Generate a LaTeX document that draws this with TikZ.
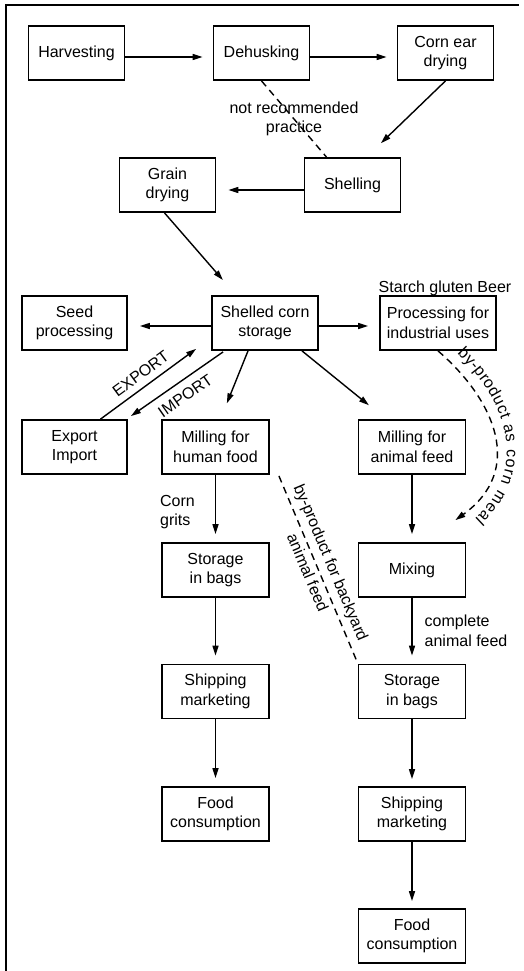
\documentclass[tikz,border=0pt]{standalone}
\usepackage{fontspec}
\setmainfont{Liberation Sans}
\usetikzlibrary{arrows.meta,decorations.text,calc}
\begin{document}
\begin{tikzpicture}[x=1pt,y=-1pt,font=\fontsize{16}{19.5}\selectfont,
 box/.style={draw,line width=1.8pt,minimum height=54pt,inner sep=0pt,align=center},
 wbox/.style={box,minimum width=107pt},
 nbox/.style={box,minimum width=96pt},
 arr/.style={line width=1.4pt,-{Triangle[length=10pt,width=6pt]}},
 rarr/.style={line width=1.4pt,{Triangle[length=10pt,width=6pt]}-},
 dsh/.style={line width=1.4pt,dash pattern=on 7pt off 5pt},
 lab/.style={inner sep=0pt}]
\useasboundingbox (0,0) rectangle (523,971);
\draw[line width=2.8pt,line join=miter] (6,971) -- (6,5) -- (519,5);

\node[nbox] (harv) at (76.5,53) {Harvesting};
\node[nbox] (dehusk) at (261.5,53) {Dehusking};
\node[nbox] (corn) at (445.5,53) {Corn ear\\drying};
\node[nbox] (shell) at (352.5,185) {Shelling};
\node[nbox] (grain) at (167.5,185) {Grain\\drying};
\node[box,minimum width=106pt] (store) at (265,323) {Shelled corn\\storage};
\node[box,minimum width=105pt] (seed) at (74.5,323) {Seed\\processing};
\node[box,minimum width=116pt] (proc) at (438,323) {Processing for\\industrial uses};
\node[lab,anchor=base] (starch) at (445,292.5) {Starch gluten Beer};
\node[box,minimum width=105pt] (expo) at (74.5,447) {Export\\Import};
\node[wbox] (hmill) at (215.5,447) {Milling for\\human food};
\node[wbox] (amill) at (412,447) {Milling for\\animal feed};
\node[wbox] (lstore) at (215.5,570) {Storage\\in bags};
\node[wbox] (mix) at (412,570) {Mixing};
\node[wbox] (lship) at (215.5,691.5) {Shipping\\marketing};
\node[wbox] (rstore) at (412,691.5) {Storage\\in bags};
\node[wbox] (lfood) at (215.5,814) {Food\\consumption};
\node[wbox] (rship) at (412,814) {Shipping\\marketing};
\node[wbox] (rfood) at (412,936) {Food\\consumption};

\draw[arr,shorten >=10pt] ([yshift=-4pt]harv.east) -- ([yshift=-4pt]dehusk.west);
\draw[arr,shorten >=10pt] ([yshift=-4pt]dehusk.east) -- ([yshift=-4pt]corn.west);
\draw[arr,shorten >=20pt] (corn.south) -- ([xshift=14pt]shell.north);
\draw[dsh] (dehusk.south) -- node[lab,align=center]{not recommended\\practice} ([xshift=-26pt]shell.north);
\draw[arr,shorten >=12pt] ([yshift=-5pt]shell.west) -- ([yshift=-5pt]grain.east);
\draw[arr,shorten >=20pt] ([xshift=-3pt]grain.south) -- ([xshift=-29pt]store.north);
\draw[arr,shorten >=12pt] ([yshift=-3pt]store.west) -- ([yshift=-3pt]seed.east);
\draw[arr,shorten >=11pt] ([yshift=-3pt]store.east) -- ([yshift=-3pt]proc.west);
\draw[arr] ([xshift=26pt]expo.north) -- node[lab,sloped,above=6.5pt]{EXPORT} ([shift={(-15pt,2pt)}]store.south west);
\draw[rarr] ([shift={(3pt,3pt)}]expo.north east) -- node[lab,sloped,below=8pt]{IMPORT} ([shift={(12pt,-1pt)}]store.south west);
\draw[arr,shorten >=17pt] ([xshift=-17pt]store.south) -- ([xshift=5pt]hmill.north);
\draw[arr,shorten >=22pt] ([xshift=37pt]store.south) -- ([xshift=-26pt]amill.north);

\coordinate (cmtip) at ([shift={(-11pt,22pt)}]mix.north east);
\draw[dsh,-{Triangle[length=10pt,width=6pt]}] (proc.south) .. controls (495,400) and (525,470) .. (cmtip);
\path[decorate,decoration={text along path,text={|\fontsize{16}{19}\selectfont|by-product as corn meal},text align=center,raise=11pt}] (proc.south) .. controls (495,400) and (525,470) .. (cmtip);

\draw[arr,shorten >=8pt] (hmill) -- node[lab,left=20pt,align=left,pos=0.55]{Corn\\grits} (lstore);
\draw[arr,shorten >=8pt] (lstore) -- (lship);
\draw[arr,shorten >=8pt] (lship) -- (lfood);
\draw[arr,shorten >=8pt] (amill) -- (mix);
\draw[arr,shorten >=8pt] (mix) -- node[lab,right=12pt,align=left]{complete\\animal feed} (rstore);
\draw[arr,shorten >=7pt] (rstore) -- (rship);
\draw[arr,shorten >=7pt] (rship) -- (rfood);
\draw[dsh] ([shift={(9pt,-1pt)}]hmill.south east) -- node[lab,sloped,above=5pt]{by-product for backyard} node[lab,sloped,below=4pt]{animal feed} ([shift={(-1pt,3pt)}]rstore.north west);
\end{tikzpicture}
\end{document}
